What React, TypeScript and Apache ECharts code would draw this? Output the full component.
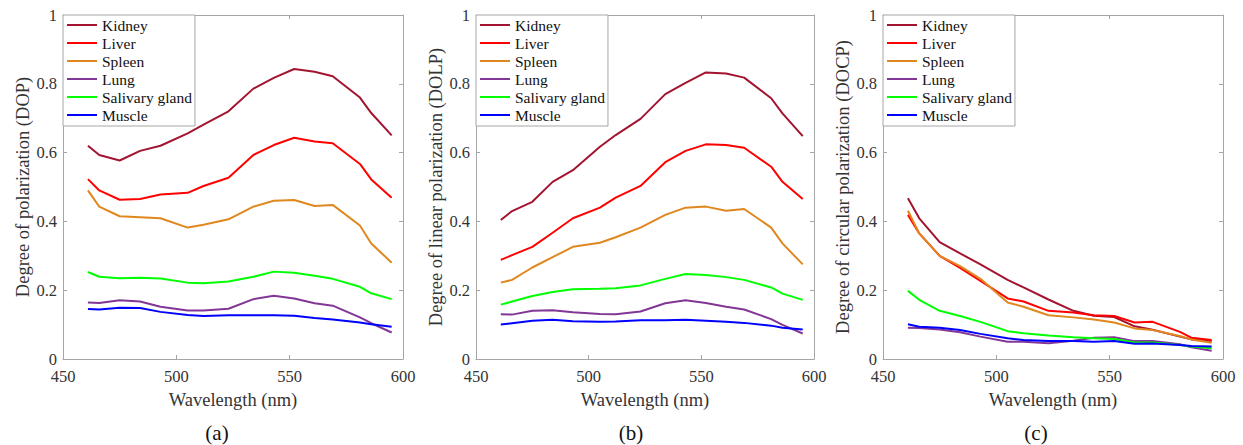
import React, { useEffect, useRef } from "react";
import * as echarts from "echarts";

const wavelengths = [461, 466, 475, 484, 493, 505, 512, 523, 534, 543, 552, 561, 569, 581, 586, 595];
const tissues = ["Kidney", "Liver", "Spleen", "Lung", "Salivary gland", "Muscle"];
const xTicks = [450, 500, 550, 600];
const yTicks = [0, 0.2, 0.4, 0.6, 0.8, 1];

// (a) Degree of polarization (DOP)
const dopKidney = [0.62, 0.593, 0.577, 0.605, 0.62, 0.656, 0.681, 0.72, 0.786, 0.817, 0.843, 0.835, 0.822, 0.76, 0.715, 0.65];
const dopLiver = [0.523, 0.49, 0.463, 0.465, 0.478, 0.483, 0.503, 0.527, 0.593, 0.622, 0.643, 0.632, 0.627, 0.567, 0.522, 0.469];
const dopSpleen = [0.49, 0.443, 0.415, 0.412, 0.409, 0.382, 0.39, 0.406, 0.443, 0.46, 0.462, 0.445, 0.448, 0.388, 0.336, 0.28];
const dopLung = [0.164, 0.163, 0.171, 0.167, 0.152, 0.141, 0.141, 0.146, 0.174, 0.184, 0.176, 0.162, 0.155, 0.121, 0.104, 0.077];
const dopSalivary = [0.253, 0.239, 0.235, 0.236, 0.234, 0.222, 0.22, 0.225, 0.239, 0.254, 0.251, 0.242, 0.233, 0.21, 0.191, 0.174];
const dopMuscle = [0.145, 0.144, 0.149, 0.148, 0.137, 0.128, 0.125, 0.127, 0.127, 0.127, 0.126, 0.119, 0.115, 0.106, 0.101, 0.094];

// (b) Degree of linear polarization (DOLP)
const dolpKidney = [0.404, 0.43, 0.457, 0.515, 0.549, 0.617, 0.651, 0.698, 0.77, 0.803, 0.833, 0.83, 0.818, 0.758, 0.714, 0.648];
const dolpLiver = [0.288, 0.302, 0.326, 0.367, 0.409, 0.44, 0.469, 0.503, 0.572, 0.605, 0.624, 0.622, 0.614, 0.559, 0.515, 0.465];
const dolpSpleen = [0.222, 0.23, 0.266, 0.296, 0.326, 0.338, 0.354, 0.382, 0.419, 0.44, 0.443, 0.431, 0.436, 0.382, 0.336, 0.275];
const dolpLung = [0.13, 0.129, 0.14, 0.142, 0.136, 0.131, 0.13, 0.138, 0.162, 0.171, 0.163, 0.152, 0.144, 0.116, 0.099, 0.074];
const dolpSalivary = [0.158, 0.167, 0.183, 0.195, 0.203, 0.204, 0.206, 0.214, 0.233, 0.247, 0.244, 0.238, 0.23, 0.208, 0.19, 0.172];
const dolpMuscle = [0.1, 0.104, 0.111, 0.114, 0.11, 0.108, 0.109, 0.113, 0.113, 0.114, 0.111, 0.108, 0.105, 0.097, 0.091, 0.086];

// (c) Degree of circular polarization (DOCP)
const docpKidney = [0.467, 0.409, 0.34, 0.307, 0.275, 0.23, 0.208, 0.173, 0.14, 0.126, 0.122, 0.095, 0.085, 0.065, 0.057, 0.052];
const docpLiver = [0.419, 0.365, 0.3, 0.265, 0.227, 0.176, 0.167, 0.14, 0.135, 0.127, 0.125, 0.106, 0.108, 0.079, 0.062, 0.055];
const docpSpleen = [0.431, 0.365, 0.3, 0.27, 0.233, 0.164, 0.152, 0.127, 0.121, 0.115, 0.106, 0.089, 0.084, 0.067, 0.057, 0.047];
const docpLung = [0.091, 0.09, 0.086, 0.078, 0.065, 0.05, 0.05, 0.046, 0.053, 0.062, 0.063, 0.052, 0.052, 0.043, 0.034, 0.024];
const docpSalivary = [0.198, 0.172, 0.14, 0.125, 0.108, 0.081, 0.075, 0.068, 0.063, 0.06, 0.058, 0.048, 0.048, 0.041, 0.036, 0.031];
const docpMuscle = [0.101, 0.094, 0.091, 0.084, 0.073, 0.06, 0.055, 0.052, 0.052, 0.05, 0.052, 0.044, 0.045, 0.041, 0.038, 0.036];

const panels = [
  { name: "Degree of polarization (DOP)", caption: "(a)", data: [dopKidney, dopLiver, dopSpleen, dopLung, dopSalivary, dopMuscle] },
  { name: "Degree of linear polarization (DOLP)", caption: "(b)", data: [dolpKidney, dolpLiver, dolpSpleen, dolpLung, dolpSalivary, dolpMuscle] },
  { name: "Degree of circular polarization (DOCP)", caption: "(c)", data: [docpKidney, docpLiver, docpSpleen, docpLung, docpSalivary, docpMuscle] },
];

const colors = ["#A2142F", "#FF0000", "#E0871E", "#823796", "#00FF00", "#0000FF"];
const gridBoxes = [
  { left: 63, width: 340, captionX: 217 },
  { left: 476, width: 338, captionX: 631 },
  { left: 883, width: 340, captionX: 1036 },
];

const FONT = "Liberation Serif";
const AXIS_COLOR = "#a6a6a6";
const LABEL_COLOR = "#333333";

export default function App() {
  const ref = useRef<HTMLDivElement>(null);
  useEffect(() => {
    document.body.style.margin = "0";
    const chart = echarts.init(ref.current!, null, { renderer: "svg" });
    const grid: any[] = [];
    const xAxis: any[] = [];
    const yAxis: any[] = [];
    const legend: any[] = [];
    const series: any[] = [];

    panels.forEach((p, i) => {
      const g = gridBoxes[i];
      grid.push({ left: g.left, top: 15, width: g.width, height: 344 });
      const axisLine = { show: true, onZero: false, lineStyle: { color: AXIS_COLOR, width: 1 } };
      const axisTick = { show: true, inside: true, length: 4, lineStyle: { color: AXIS_COLOR } };
      xAxis.push({
        type: "value", gridIndex: i, position: "bottom", min: xTicks[0], max: xTicks[xTicks.length - 1], interval: 50,
        axisLine, axisTick, splitLine: { show: false },
        axisLabel: { margin: 10, fontFamily: FONT, fontSize: 16.5, lineHeight: 14, color: LABEL_COLOR },
        name: "Wavelength (nm)", nameLocation: "middle", nameGap: 31,
        nameTextStyle: { fontFamily: FONT, fontSize: 18.5, color: LABEL_COLOR },
      });
      xAxis.push({
        type: "value", gridIndex: i, position: "top", min: xTicks[0], max: xTicks[xTicks.length - 1], interval: 50,
        axisLine, axisTick, axisLabel: { show: false }, splitLine: { show: false },
      });
      yAxis.push({
        type: "value", gridIndex: i, position: "left", min: yTicks[0], max: yTicks[yTicks.length - 1], interval: 0.2,
        axisLine, axisTick, splitLine: { show: false },
        axisLabel: { margin: 6, fontFamily: FONT, fontSize: 16.5, lineHeight: 14, color: LABEL_COLOR },
        name: p.name, nameLocation: "middle", nameGap: 31,
        nameTextStyle: { fontFamily: FONT, fontSize: 18.5, color: LABEL_COLOR },
      });
      yAxis.push({
        type: "value", gridIndex: i, position: "right", min: yTicks[0], max: yTicks[yTicks.length - 1], interval: 0.2,
        axisLine, axisTick, axisLabel: { show: false }, splitLine: { show: false },
      });
      legend.push({
        orient: "vertical", left: g.left, top: 15, data: tissues, icon: "rect",
        itemWidth: 30, itemHeight: 2, itemGap: 0, padding: [1, 3, 2, 4],
        backgroundColor: "#ffffff", borderColor: AXIS_COLOR, borderWidth: 1, borderRadius: 0,
        selectedMode: false, z: 10,
        textStyle: { fontFamily: FONT, fontSize: 15.5, color: "#111111", lineHeight: 18 },
      });
      p.data.forEach((vals, k) => {
        series.push({
          type: "line", name: tissues[k], xAxisIndex: i * 2, yAxisIndex: i * 2,
          data: wavelengths.map((w, j) => [w, vals[j]]),
          showSymbol: false, symbol: "none", color: colors[k],
          lineStyle: { width: 2, color: colors[k] },
        });
      });
    });

    const graphicEls = panels.map((p, i) => ({
      type: "text", x: gridBoxes[i].captionX, y: 433,
      style: { text: p.caption, textAlign: "center", textVerticalAlign: "middle", fontFamily: FONT, fontSize: 21, fill: "#111111" },
    }));

    chart.setOption({
      animation: false,
      backgroundColor: "#ffffff",
      grid, xAxis, yAxis, legend, series,
      graphic: graphicEls,
    });
    return () => chart.dispose();
  }, []);
  return <div ref={ref} style={{ width: 1243, height: 445 }} />;
}
